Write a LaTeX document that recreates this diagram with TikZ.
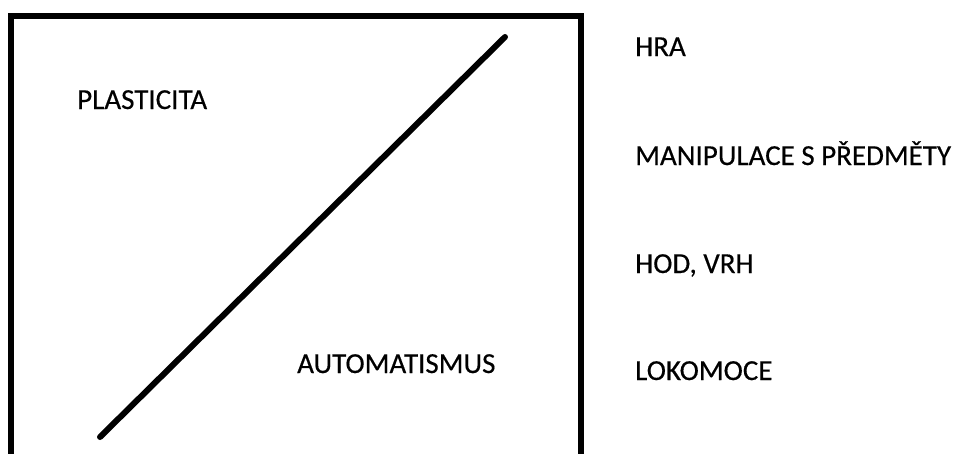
\documentclass[tikz,border=0pt]{standalone}
\usepackage{fontspec}
\setmainfont{Carlito}
\newfontfamily\labelfont{Carlito}[FakeBold=0.4]
\begin{document}
\begin{tikzpicture}[x=1pt,y=-1pt,
  label/.style={anchor=base west,inner sep=0pt,font=\labelfont\fontsize{29}{31}\selectfont,text=black},
  frame/.style={draw=black,line width=6pt},
  divider/.style={draw=black,line width=6pt,line cap=round}]
  \clip (0,0) rectangle (955,453);
  \useasboundingbox (0,0) rectangle (955,453);
  % square frame, open past the lower edge
  \draw[frame] (11,16) rectangle (581,480);
  % diagonal divider
  \coordinate (low) at (100,437);
  \coordinate (high) at (505,37);
  \draw[divider] (low) -- (high);
  % labels inside the frame
  \node[label] (plast) at (77,109) {PLASTICITA};
  \node[label] (auto) at (297,373) {AUTOMATISMUS};
  % list on the right
  \node[label] (hra) at (635,56) {HRA};
  \node[label] (manip) at (635,165) {MANIPULACE S PŘEDMĚTY};
  \node[label] (hod) at (635,273) {HOD, VRH};
  \node[label] (loko) at (635,380) {LOKOMOCE};
\end{tikzpicture}
\end{document}
